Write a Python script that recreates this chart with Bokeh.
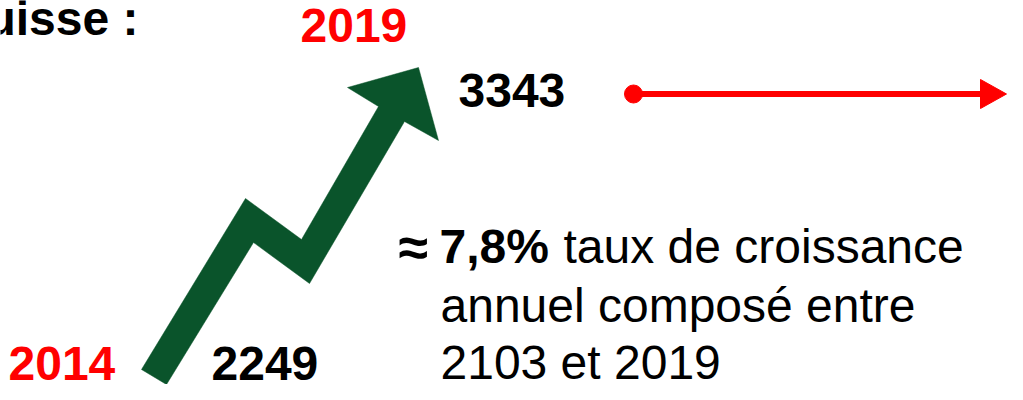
from bokeh.plotting import figure
from bokeh.models import Range1d
from bokeh.embed import file_html
from bokeh.resources import INLINE
from bokeh.core.properties import value

# ---- data ----
years = ["2014", "2019"]
amounts = ["2249", "3343"]
cagr = "7,8%"
title_fragment = "uisse :"
note_lines = ["taux de croissance", "annuel composé entre", "2103 et 2019"]

# ---- layout (pixel space of the picture) ----
FONT = value("Liberation Sans")
GREEN = "#0a542b"
RED = "#ff0000"
TB = -19  # baseline correction for svg text

p = figure(width=1007, height=384,
           x_range=Range1d(0, 1007), y_range=Range1d(384, 0),
           x_axis_type=None, y_axis_type=None,
           output_backend="svg", toolbar_location=None, min_border=0)
p.grid.visible = False
p.outline_line_color = None
p.background_fill_color = "white"

# green zig-zag growth arrow
arrow_x = [141, 245, 301, 378, 347, 418, 438, 404, 309, 253, 166]
arrow_y = [369, 198, 239, 106, 87, 67, 140, 121, 283, 242, 384]
p.patch(arrow_x, arrow_y, fill_color=GREEN, line_color=GREEN, line_width=0.5)

# red arrow to the right
p.segment(x0=[633], y0=[93.5], x1=[984], y1=[93.5], line_color=RED, line_width=6)
p.scatter(x=[633], y=[93.5], size=18, fill_color=RED, line_color=RED)
p.patch([980, 980, 1006], [79, 108, 93.5], fill_color=RED, line_color=RED)

def txt(xs, ys, labels, size, color="black", bold=True, align="left"):
    p.text(x=xs, y=[y + TB for y in ys], text=labels, text_font=FONT,
           text_font_style="bold" if bold else "normal", text_font_size=size,
           text_color=color, text_align=align, text_baseline="alphabetic")

# title fragment
txt([138], [37], [title_fragment], "48px", align="right")
# years (red)
txt([8, 300], [382, 44], years, "48px", color=RED)
# values (black)
txt([211, 458], [382, 109], amounts, "48px")
# CAGR note
txt([398], [265], ["≈"], "54px")
txt([439], [265], [cagr], "48px")
txt([563, 440, 440], [265, 324, 381], note_lines, "48px", bold=False)

open("out.html", "w").write(file_html(p, INLINE))
